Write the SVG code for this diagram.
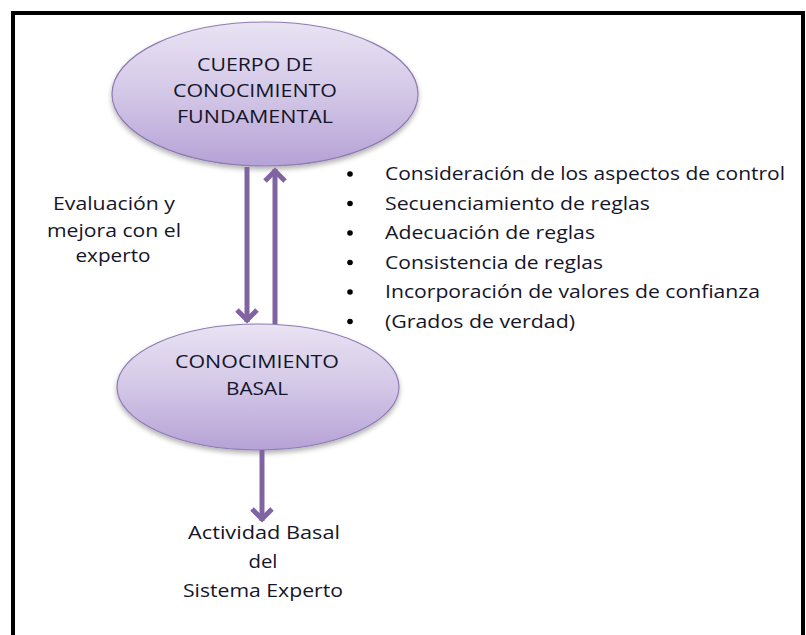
<svg xmlns="http://www.w3.org/2000/svg" width="806" height="635" viewBox="0 0 806 635">
  <defs>
    <linearGradient id="eg" x1="0" y1="0" x2="0" y2="1">
      <stop offset="0" stop-color="#e9e3f3"/>
      <stop offset="0.5" stop-color="#d3c7e7"/>
      <stop offset="1" stop-color="#b6a2d6"/>
    </linearGradient>
    <filter id="sh" x="-10%" y="-10%" width="120%" height="130%">
      <feDropShadow dx="0" dy="3" stdDeviation="2.5" flood-color="#000" flood-opacity="0.3"/>
    </filter>
    <marker id="ah" markerUnits="userSpaceOnUse" markerWidth="30" markerHeight="30" viewBox="-20 -15 30 30" refX="0" refY="0" orient="auto">
      <path d="M-12,-10 L-2,0 L-12,10" fill="none" stroke="#8064a2" stroke-width="5"/>
    </marker>
    <style>
      .node ellipse { fill: url(#eg); stroke: #8e7bb2; stroke-width: 1.2; filter: url(#sh); }
      text { font-family: "Open Sans", "Liberation Sans", sans-serif; font-size: 18px; fill: #15152a; }
      .c { text-anchor: middle; }
      .conn line { stroke: #8064a2; stroke-width: 5; marker-end: url(#ah); }
      .bul circle { fill: #000; }
    </style>
  </defs>
  <rect width="806" height="635" fill="#fff"/>
  <path d="M13,640 V13 H803 V640" fill="none" stroke="#000" stroke-width="4"/>

  <g id="node-fundamental" class="node">
    <ellipse cx="265" cy="94" rx="153" ry="72"/>
    <text class="c" x="255" y="71" textLength="116" lengthAdjust="spacingAndGlyphs">CUERPO DE</text>
    <text class="c" x="255" y="97" textLength="164" lengthAdjust="spacingAndGlyphs">CONOCIMIENTO</text>
    <text class="c" x="255" y="123" textLength="156" lengthAdjust="spacingAndGlyphs">FUNDAMENTAL</text>
  </g>

  <g id="node-basal" class="node">
    <ellipse cx="258" cy="387" rx="141" ry="63"/>
    <text class="c" x="257" y="368" textLength="164" lengthAdjust="spacingAndGlyphs">CONOCIMIENTO</text>
    <text class="c" x="257" y="395" textLength="62" lengthAdjust="spacingAndGlyphs">BASAL</text>
  </g>

  <g id="connectors" class="conn">
    <line x1="247" y1="167" x2="247" y2="322"/>
    <line x1="275" y1="324" x2="275" y2="169"/>
    <line x1="262" y1="450" x2="262" y2="521"/>
  </g>

  <g id="label-evaluacion">
    <text class="c" x="114" y="210" textLength="122" lengthAdjust="spacingAndGlyphs">Evaluación y</text>
    <text class="c" x="114" y="237" textLength="134" lengthAdjust="spacingAndGlyphs">mejora con el</text>
    <text class="c" x="113" y="262" textLength="75" lengthAdjust="spacingAndGlyphs">experto</text>
  </g>

  <g id="label-actividad">
    <text class="c" x="264" y="539" textLength="152" lengthAdjust="spacingAndGlyphs">Actividad Basal</text>
    <text class="c" x="263" y="568" textLength="29" lengthAdjust="spacingAndGlyphs">del</text>
    <text class="c" x="263" y="597" textLength="160" lengthAdjust="spacingAndGlyphs">Sistema Experto</text>
  </g>

  <g id="bullet-list" class="bul">
    <circle cx="350" cy="174" r="2.8"/>
    <circle cx="350" cy="203.5" r="2.8"/>
    <circle cx="350" cy="233" r="2.8"/>
    <circle cx="350" cy="262.5" r="2.8"/>
    <circle cx="350" cy="292" r="2.8"/>
    <circle cx="350" cy="321.5" r="2.8"/>
    <text x="385" y="180" textLength="400" lengthAdjust="spacingAndGlyphs">Consideración de los aspectos de control</text>
    <text x="385" y="209.5" textLength="265" lengthAdjust="spacingAndGlyphs">Secuenciamiento de reglas</text>
    <text x="385" y="239" textLength="210" lengthAdjust="spacingAndGlyphs">Adecuación de reglas</text>
    <text x="385" y="268.5" textLength="218" lengthAdjust="spacingAndGlyphs">Consistencia de reglas</text>
    <text x="385" y="298" textLength="375" lengthAdjust="spacingAndGlyphs">Incorporación de valores de confianza</text>
    <text x="385" y="327.5" textLength="190" lengthAdjust="spacingAndGlyphs">(Grados de verdad)</text>
  </g>
</svg>
